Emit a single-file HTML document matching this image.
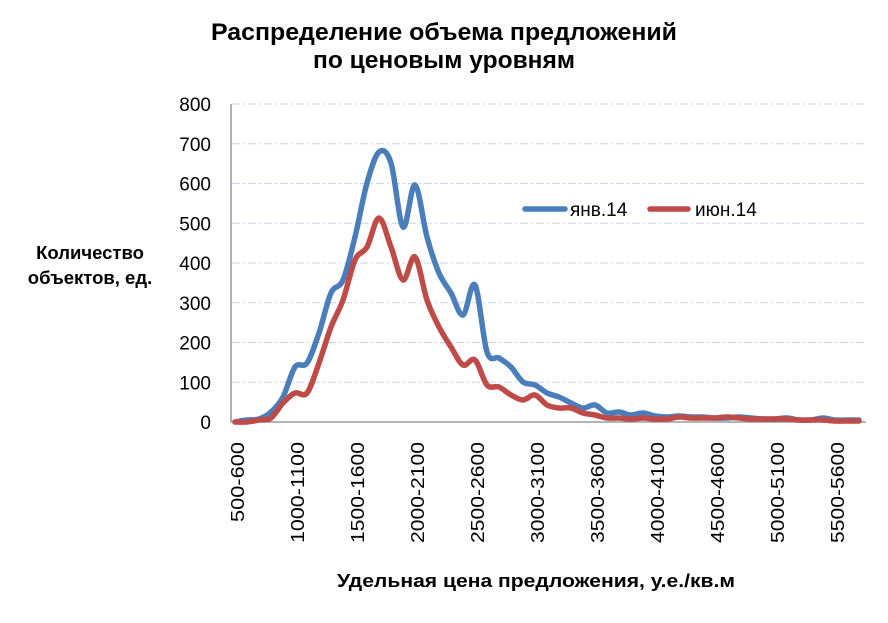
<!DOCTYPE html>
<html><head><meta charset="utf-8"><style>
body{margin:0;background:#fff;}
svg{display:block;font-family:"Liberation Sans",Arial,sans-serif;}
</style></head><body>
<svg id="c" width="888" height="623" viewBox="0 0 888 623">
<text x="444" y="40" font-size="24" font-weight="bold" text-anchor="middle" textLength="466" lengthAdjust="spacingAndGlyphs">Распределение объема предложений</text>
<text x="444" y="68" font-size="24" font-weight="bold" text-anchor="middle" textLength="262" lengthAdjust="spacingAndGlyphs">по ценовым уровням</text>
<text x="90" y="259" font-size="18.5" font-weight="bold" text-anchor="middle">Количество</text>
<text x="90" y="284" font-size="18.5" font-weight="bold" text-anchor="middle">объектов, ед.</text>
<text x="536" y="587" font-size="18.5" font-weight="bold" text-anchor="middle" textLength="398" lengthAdjust="spacingAndGlyphs">Удельная цена предложения, у.е./кв.м</text>
<g id="grid"></g>
<line x1="231" y1="104" x2="231" y2="422" stroke="#868686" stroke-width="1.3"/>
<line x1="231" y1="422" x2="866" y2="422" stroke="#868686" stroke-width="1.3"/>
<g id="yl" font-size="19" text-anchor="end"></g>
<g id="xl" font-size="18"></g>
<path id="pb" fill="none" stroke="#4a7ebb" stroke-width="5.5" stroke-linejoin="round" stroke-linecap="round"/>
<path id="pr" fill="none" stroke="#be4b48" stroke-width="5.5" stroke-linejoin="round" stroke-linecap="round"/>
<line x1="525" y1="209" x2="565" y2="209" stroke="#4a7ebb" stroke-width="5.5" stroke-linecap="round"/>
<text x="570" y="216" font-size="19">янв.14</text>
<line x1="650" y1="209" x2="688" y2="209" stroke="#be4b48" stroke-width="5.5" stroke-linecap="round"/>
<text x="695" y="216" font-size="19">июн.14</text>
</svg>
<script>
var NS="http://www.w3.org/2000/svg";
function el(t,a,p,txt){var e=document.createElementNS(NS,t);for(var k in a)e.setAttribute(k,a[k]);if(txt)e.textContent=txt;document.getElementById(p).appendChild(e);return e;}
for(var i=0;i<=8;i++){var y=422-i*39.75;
 if(i>0)el("line",{x1:232,x2:866,y1:y,y2:y,stroke:"#c9d6ea","stroke-width":1,"stroke-dasharray":"8 3 2 3"},"grid");
 el("text",{x:211,y:y+7},"yl",String(i*100));}
var labs=["500-600","1000-1100","1500-1600","2000-2100","2500-2600","3000-3100","3500-3600","4000-4100","4500-4600","5000-5100","5500-5600"];
for(var k=0;k<labs.length;k++){var x=238+60*k+6;
 el("text",{x:0,y:0,transform:"translate("+x+",442) rotate(-90)","text-anchor":"end",textLength:(k==0?80:101),lengthAdjust:"spacingAndGlyphs"},"xl",labs[k]);}
var B=[422,420,419,412,397,367,363,333,293,280,237,183,152,163,227,185,237,273,293,315,285,352,358,367,382,385,393,397,403,408,405,413,412,415,413,416,417,416,417,417,418,418,417,418,419,419,418,420,420,418,420,420,420];
var R=[422,422,420,418,403,393,393,363,327,300,260,247,218,247,280,257,300,327,347,365,360,385,387,395,400,395,405,408,408,413,415,418,418,419,418,419,419,417,418,418,418,417,418,419,419,419,419,420,420,420,421,421,421];
function path(a){var p=a.map(function(v,i){return[235+12*i,v];});var d="M"+p[0][0]+","+p[0][1];
 for(var i=0;i<p.length-1;i++){var p0=p[i-1]||p[i],p1=p[i],p2=p[i+1],p3=p[i+2]||p2;
 d+=" C"+(p1[0]+(p2[0]-p0[0])/6)+","+(p1[1]+(p2[1]-p0[1])/6)+" "+(p2[0]-(p3[0]-p1[0])/6)+","+(p2[1]-(p3[1]-p1[1])/6)+" "+p2[0]+","+p2[1];}
 return d;}
document.getElementById("pb").setAttribute("d",path(B));
document.getElementById("pr").setAttribute("d",path(R));
</script>
</body></html>
